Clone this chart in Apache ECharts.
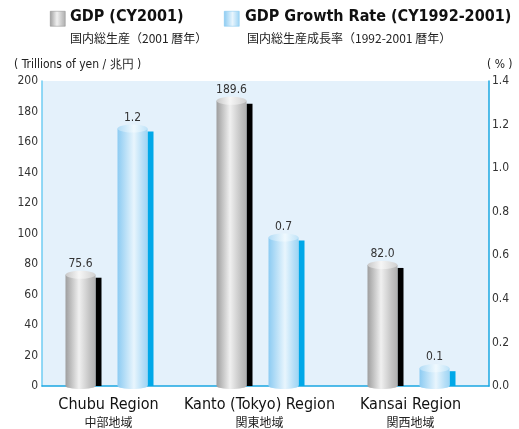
<!DOCTYPE html>
<html>
<head>
<meta charset="utf-8">
<script src="https://cdn.jsdelivr.net/npm/echarts@6/dist/echarts.min.js"></script>
<style>
  html, body { margin: 0; padding: 0; background: #fff; }
  #chart { width: 519px; height: 429px; }
</style>
</head>
<body>
<div id="chart"></div>
<script>
// 地域別 GDP と成長率
var regions = ['Chubu Region', 'Kanto (Tokyo) Region', 'Kansai Region'];
var regionsJa = ['中部地域', '関東地域', '関西地域'];
var gdp = [75.6, 189.6, 82.0];        // 兆円
var growth = [1.2, 0.7, 0.1];         // %
var gdpTicks = [0, 200, 20];          // min, max, step
var rateTicks = [0, 1.4, 0.2];

var narrow = "'Liberation Sans Narrow', 'DejaVu Sans Condensed', sans-serif";
var ja = "'Noto Sans CJK JP', sans-serif";

var grayGrad = new echarts.graphic.LinearGradient(0, 0, 1, 0, [
  {offset: 0, color: '#9e9e9e'}, {offset: 0.45, color: '#f0f0f0'},
  {offset: 0.8, color: '#c4c4c4'}, {offset: 1, color: '#b0b0b0'}
]);
var grayCap = new echarts.graphic.LinearGradient(0, 0, 1, 0, [
  {offset: 0, color: '#c8c8c8'}, {offset: 0.45, color: '#f6f6f6'}, {offset: 1, color: '#d0d0d0'}
]);
var blueGrad = new echarts.graphic.LinearGradient(0, 0, 1, 0, [
  {offset: 0, color: '#8ccbf2'}, {offset: 0.55, color: '#e8f5fd'},
  {offset: 0.85, color: '#b4def7'}, {offset: 1, color: '#9fd5f4'}
]);
var blueCap = new echarts.graphic.LinearGradient(0, 0, 1, 0, [
  {offset: 0, color: '#b2dcf6'}, {offset: 0.55, color: '#f0f9fe'}, {offset: 1, color: '#bfe3f8'}
]);

function makeCylinder(dx, body, cap, shadow) {
  return function (params, api) {
    var top = api.coord([api.value(0), api.value(1)]);
    var base = api.coord([api.value(0), 0]);
    var w = 30, ry = 4;
    var x = top[0] + dx - w / 2;
    var yTop = top[1] + ry;
    return {
      type: 'group',
      children: [
        {type: 'rect', shape: {x: x + w, y: yTop + 3, width: 6, height: base[1] - yTop - 3},
          style: {fill: shadow}},
        {type: 'ellipse', shape: {cx: x + w / 2, cy: base[1], rx: w / 2, ry: 3}, style: {fill: body}},
        {type: 'rect', shape: {x: x, y: yTop, width: w, height: base[1] - yTop}, style: {fill: body}},
        {type: 'ellipse', shape: {cx: x + w / 2, cy: yTop, rx: w / 2, ry: ry}, style: {fill: cap}},
        {type: 'text', x: x + w / 2, y: yTop - ry - 1,
          style: {text: api.value(1).toFixed(1), fill: '#333', font: '12px ' + narrow,
            align: 'center', verticalAlign: 'bottom'}}
      ]
    };
  };
}

var chart = echarts.init(document.getElementById('chart'));
chart.setOption({
  animation: false,
  grid: [
    {left: 42, right: 30, top: 81, bottom: 43, show: true, backgroundColor: '#e4f1fb', borderWidth: 0},
    {left: 33, right: 33, top: 81, bottom: 43}
  ],
  xAxis: [
    {gridIndex: 0, type: 'category', data: regions,
      axisLine: {lineStyle: {color: '#1aa7e2', width: 1.5}}, axisTick: {show: false}, axisLabel: {show: false}},
    {gridIndex: 1, type: 'category', data: regions,
      axisLine: {show: false}, axisTick: {show: false},
      axisLabel: {margin: 9, interval: 0,
        formatter: function (v, i) { return '{en|' + v + '}\n{ja|' + regionsJa[i] + '}'; },
        rich: {
          en: {fontFamily: narrow, fontSize: 16, color: '#111', lineHeight: 19},
          ja: {fontFamily: ja, fontSize: 12, color: '#222', lineHeight: 16}
        }}}
  ],
  yAxis: [
    {gridIndex: 0, type: 'value', min: gdpTicks[0], max: gdpTicks[1], interval: gdpTicks[2],
      name: '( Trillions of yen / 兆円 )', nameGap: 10,
      nameTextStyle: {fontFamily: narrow, fontSize: 12, color: '#222', align: 'left', padding: [0, 0, 0, -28]},
      axisLine: {show: true, lineStyle: {color: '#6fcdf3', width: 1.5}}, axisTick: {show: false},
      splitLine: {show: false},
      axisLabel: {fontFamily: narrow, fontSize: 12, color: '#333', margin: 4}},
    {gridIndex: 0, type: 'value', position: 'right', min: rateTicks[0], max: rateTicks[1], interval: rateTicks[2],
      name: '( % )', nameGap: 10,
      nameTextStyle: {fontFamily: narrow, fontSize: 12, color: '#222', align: 'left', padding: [0, 0, 0, -2]},
      axisLine: {show: true, lineStyle: {color: '#1aa7e2', width: 1.5}}, axisTick: {show: false},
      splitLine: {show: false},
      axisLabel: {fontFamily: narrow, fontSize: 12, color: '#333', margin: 3,
        formatter: function (v) { return v.toFixed(1); }}},
    {gridIndex: 1, type: 'value', min: gdpTicks[0], max: gdpTicks[1], show: false},
    {gridIndex: 1, type: 'value', min: rateTicks[0], max: rateTicks[1], show: false}
  ],
  graphic: [
    {type: 'rect', left: 50, top: 11, shape: {width: 15, height: 15},
      style: {fill: grayGrad, stroke: '#888', lineWidth: 0.5}},
    {type: 'text', left: 70, top: 9, style: {text: 'GDP (CY2001)', font: 'bold 16px ' + narrow, fill: '#111'}},
    {type: 'text', left: 70, top: 32, style: {text: '国内総生産（2001 暦年）', font: '12px ' + ja, fill: '#222'}},
    {type: 'rect', left: 224, top: 11, shape: {width: 15, height: 15},
      style: {fill: blueGrad, stroke: '#7cc4ee', lineWidth: 0.5}},
    {type: 'text', left: 245, top: 9, style: {text: 'GDP Growth Rate (CY1992-2001)', font: 'bold 16px ' + narrow, fill: '#111'}},
    {type: 'text', left: 247, top: 32, style: {text: '国内総生産成長率（1992-2001 暦年）', font: '12px ' + ja, fill: '#222'}}
  ],
  series: [
    {name: 'GDP (CY2001)', type: 'custom', xAxisIndex: 1, yAxisIndex: 2, clip: false,
      renderItem: makeCylinder(-28, grayGrad, grayCap, '#000'),
      data: gdp.map(function (v, i) { return [i, v]; })},
    {name: 'GDP Growth Rate (CY1992-2001)', type: 'custom', xAxisIndex: 1, yAxisIndex: 3, clip: false,
      renderItem: makeCylinder(24, blueGrad, blueCap, '#00a8e8'),
      data: growth.map(function (v, i) { return [i, v]; })}
  ]
});
</script>
</body>
</html>
